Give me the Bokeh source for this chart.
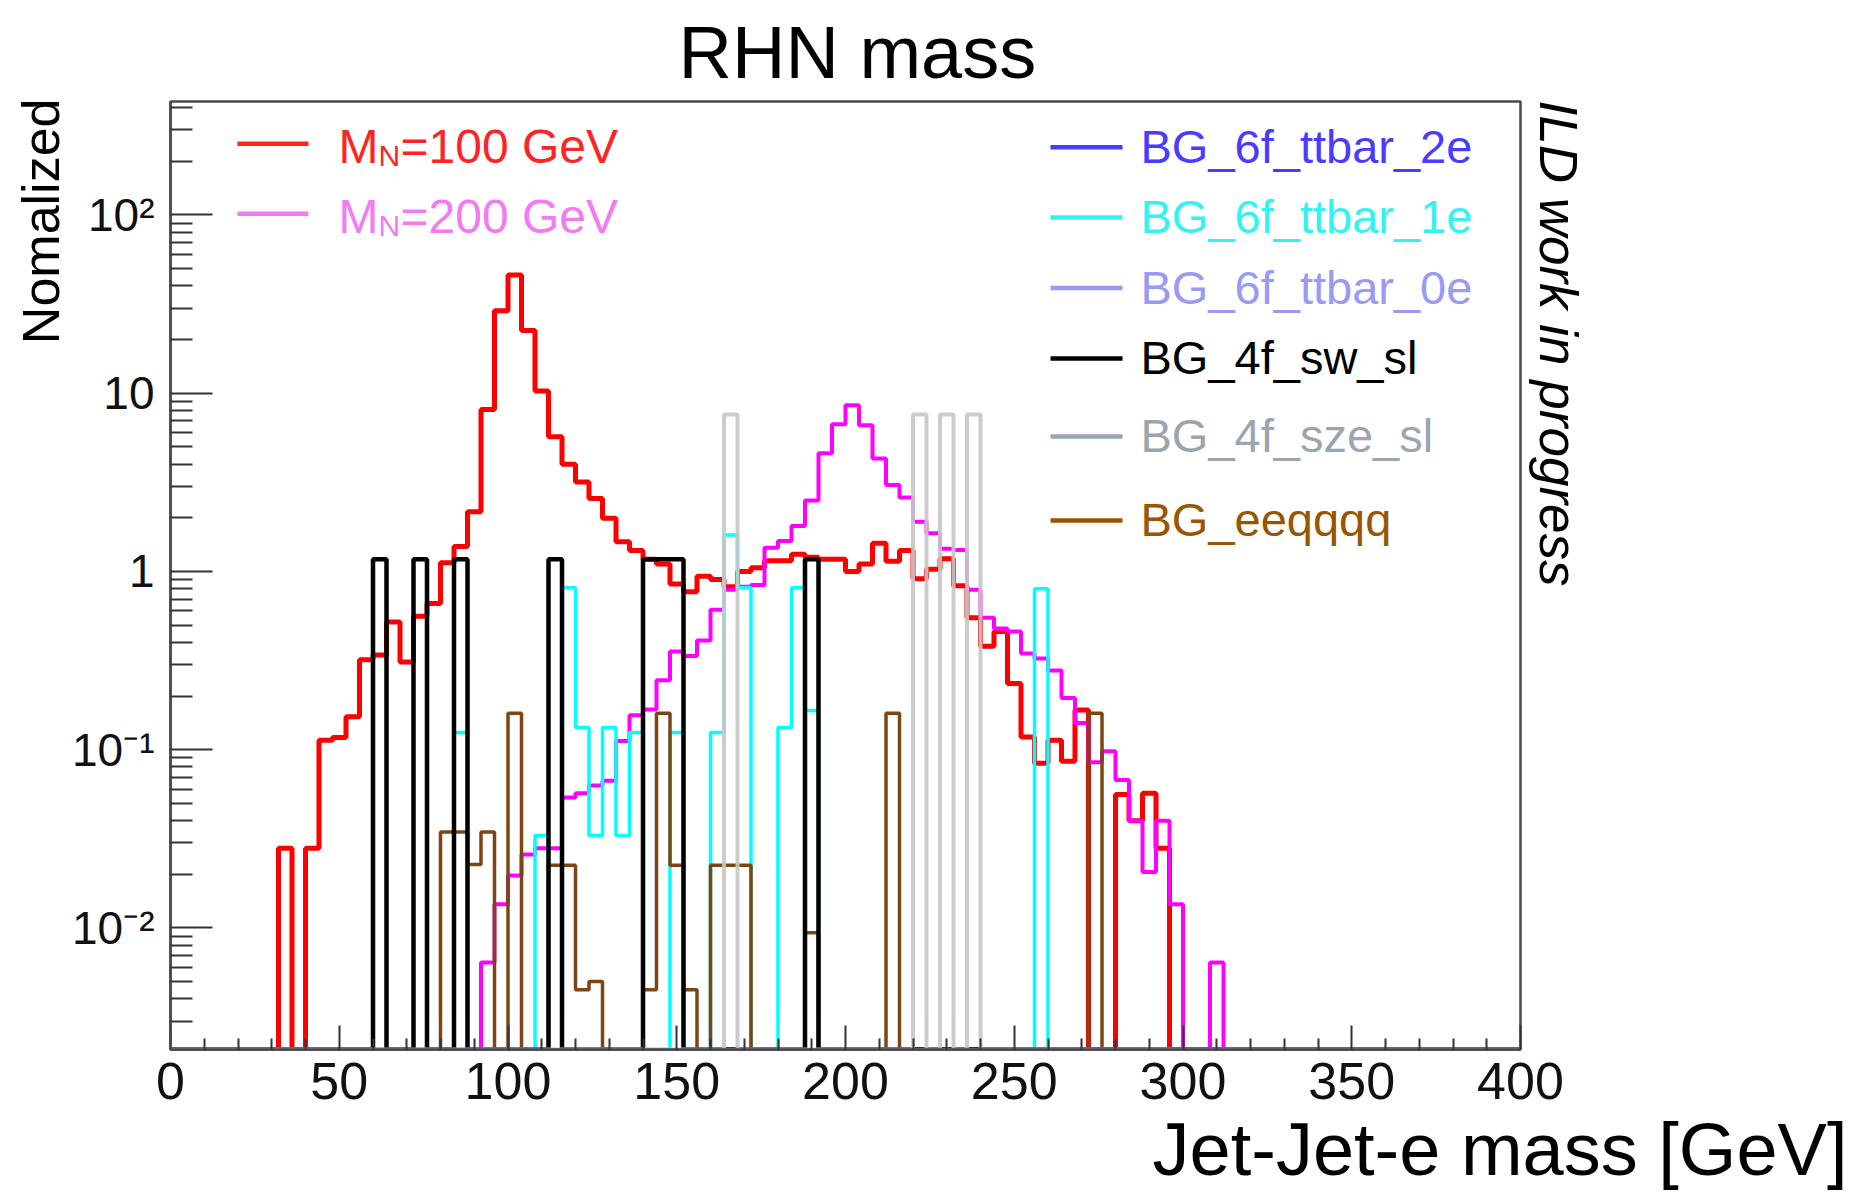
import math
import numpy as np
from bokeh.plotting import figure
from bokeh.models import Range1d, FixedTicker, Label, Title
from bokeh.embed import file_html
from bokeh.resources import INLINE

# ---- binning: 100 bins of 4 GeV between 0 and 400 GeV ----
X_MIN, X_MAX, BIN_W = 0.0, 400.0, 4.0
Y_MIN, Y_MAX = 2.08e-3, 433.0

# ---- signal M_N = 100 GeV: consecutive bins from 32 GeV ----
mn100_first_edge = 32
mn100_counts = [0.028, 0, 0.028, 0.113, 0.117, 0.153, 0.32, 0.34, 0.52, 0.31,
                0.56, 0.66, 1.12, 1.38, 2.16, 8.1, 29.0, 46.0, 22.5, 10.3,
                5.7, 4.0, 3.18, 2.57, 1.99, 1.47, 1.31, 1.17, 1.1, 0.85,
                0.77, 0.94, 0.90, 0.82, 1.0, 1.05, 1.15, 1.15, 1.25, 1.2,
                1.17, 1.17, 1.0, 1.1, 1.44, 1.14, 1.31, 0.91, 1.03, 1.18,
                0.83, 0.55, 0.38, 0.46, 0.235, 0.118, 0.084, 0.113, 0.086, 0.167,
                0, 0, 0.056, 0.040, 0.057, 0.028]

# ---- signal M_N = 200 GeV: consecutive bins from 92 GeV ----
mn200_first_edge = 92
mn200_counts = [0.0064, 0.0136, 0.0197, 0.0258, 0.028, 0.028, 0.054, 0.057, 0.063, 0.067,
                0.112, 0.156, 0.168, 0.245, 0.356, 0.336, 0.41, 0.61, 0.79, 0.82,
                0.84, 1.36, 1.48, 1.8, 2.5, 4.6, 6.7, 8.55, 6.6, 4.3,
                3.05, 2.6, 1.9, 1.64, 1.34, 1.32, 0.79, 0.55, 0.478, 0.46,
                0.347, 0.325, 0.278, 0.195, 0.141, 0.085, 0.098, 0.0675, 0.040, 0.0206,
                0.040, 0.0136, 0, 0, 0.0064]

# ---- backgrounds: low edge of each filled bin and its content ----
ttbar2e_edges, ttbar2e_counts = [], []
ttbar1e_edges = [84, 108, 116, 120, 124, 128, 132, 136, 148, 160, 164, 168, 180, 184, 188, 256]
ttbar1e_counts = [0.125, 0.033, 0.81, 0.133, 0.033, 0.133, 0.033, 0.125, 0.125, 0.125,
                  1.6, 0.81, 0.133, 0.81, 0.166, 0.8]
ttbar0e_edges, ttbar0e_counts = [], []
swsl_edges = [60, 72, 84, 112, 140, 144, 148, 188]
swsl_counts = [1.17, 1.17, 1.17, 1.17, 1.17, 1.17, 1.17, 1.17]
szesl_edges = [164, 220, 228, 236]
szesl_counts = [7.6, 7.6, 7.6, 7.6]
eeqqqq_edges = [80, 84, 88, 92, 100, 112, 116, 120, 124, 140, 144, 148, 152,
                160, 164, 168, 188, 212, 272]
eeqqqq_counts = [0.0345, 0.0345, 0.0227, 0.0345, 0.16, 0.0225, 0.0225, 0.0045, 0.005,
                 0.0045, 0.16, 0.0225, 0.0045, 0.0225, 0.0225, 0.0225, 0.0094, 0.16, 0.16]

# ---- axis ticks ----
x_tick_values = [0, 50, 100, 150, 200, 250, 300, 350, 400]
y_tick_values = [0.01, 0.1, 1, 10, 100]
y_tick_labels = ["10\u207b\u00b2", "10\u207b\u00b9", "1", "10", "10\u00b2"]

# ---- legend entries ----
signal_names = ["=100 GeV", "=200 GeV"]
signal_text_colors = ["#ff2424", "#f47af4"]
bg_names = ["BG_6f_ttbar_2e", "BG_6f_ttbar_1e", "BG_6f_ttbar_0e",
            "BG_4f_sw_sl", "BG_4f_sze_sl", "BG_eeqqqq"]
bg_text_colors = ["#4a3cff", "#33f2f2", "#9a9af5", "#000000", "#9aa5b0", "#9a5500"]

# ---- canvas geometry ----
W, H = 1856, 1197
F_LEFT, F_RIGHT, F_TOP, F_BOTTOM = 170, 1520, 101, 1049
LOG_LO, LOG_HI = math.log10(Y_MIN), math.log10(Y_MAX)
FONT = "Liberation Sans"
CAP_MID = 0.36  # distance from baseline to mid-cap height, in em


def data_x(px):
    return X_MIN + (px - F_LEFT) / (F_RIGHT - F_LEFT) * (X_MAX - X_MIN)


def data_y(py):
    return 10 ** (LOG_HI - (py - F_TOP) / (F_BOTTOM - F_TOP) * (LOG_HI - LOG_LO))


edges = np.arange(X_MIN, X_MAX + BIN_W, BIN_W)
n_bins = len(edges) - 1


def from_sparse(bin_edges, counts):
    h = np.zeros(n_bins)
    for e, c in zip(bin_edges, counts):
        h[int(round((e - X_MIN) / BIN_W))] = c
    return h


def from_run(first_edge, counts):
    return from_sparse([first_edge + i * BIN_W for i in range(len(counts))], counts)


def outline(h):
    # empty bins sit on the bottom of the log frame
    y = np.where(h > 0, h, Y_MIN)
    return edges, np.append(y, y[-1])


p = figure(width=W, height=H, x_range=Range1d(X_MIN, X_MAX),
           y_range=Range1d(Y_MIN, Y_MAX), y_axis_type="log",
           output_backend="svg", toolbar_location=None,
           min_border_left=F_LEFT, min_border_right=W - F_RIGHT,
           min_border_top=F_TOP, min_border_bottom=H - F_BOTTOM)
p.grid.visible = False
p.background_fill_color = "white"
p.border_fill_color = "white"
p.outline_line_color = "#4a4a4a"
p.outline_line_width = 2.5

# ---- title above the frame ----
p.title.text = "RHN mass"
p.title.text_font = FONT
p.title.text_font_size = "74px"
p.title.text_font_style = "normal"
p.title.text_color = "black"
p.title.align = "left"
p.title.offset = 508
p.title.vertical_align = "bottom"
p.title.standoff = 16

xa = p.xaxis[0]
xa.ticker = FixedTicker(ticks=x_tick_values,
                        minor_ticks=[v for v in range(0, 401, 10) if v % 50])
xa.axis_line_color = "#4a4a4a"
xa.axis_line_width = 2.5
xa.major_tick_in, xa.major_tick_out = 24, 0
xa.minor_tick_in, xa.minor_tick_out = 11, 0
xa.major_tick_line_color = "#333333"
xa.minor_tick_line_color = "#333333"
xa.major_tick_line_width = 2
xa.minor_tick_line_width = 2
xa.major_label_text_font = FONT
xa.major_label_text_font_size = "52px"
xa.major_label_text_color = "#111111"
xa.major_label_standoff = 13

ya = p.yaxis[0]
ya.ticker = FixedTicker(ticks=y_tick_values,
                        minor_ticks=[m * 10.0 ** e for e in range(-3, 3) for m in range(2, 10)
                                     if Y_MIN < m * 10.0 ** e < Y_MAX])
ya.major_label_overrides = dict(zip(y_tick_values, y_tick_labels))
ya.axis_line_color = "#4a4a4a"
ya.axis_line_width = 2.5
ya.major_tick_in, ya.major_tick_out = 42, 0
ya.minor_tick_in, ya.minor_tick_out = 22, 0
ya.major_tick_line_color = "#333333"
ya.minor_tick_line_color = "#333333"
ya.major_tick_line_width = 2
ya.minor_tick_line_width = 2
ya.major_label_text_font = FONT
ya.major_label_text_font_size = "46px"
ya.major_label_text_color = "#111111"
ya.major_label_standoff = 16

# ---- axis titles and the status note, set in the side panels ----
# x title: right end well past the frame, under the tick labels
p.add_layout(Title(text="Jet-Jet-e mass [GeV]", text_font=FONT, text_font_size="74px",
                   text_font_style="normal", text_color="black", align="right",
                   offset=-(W - 9 - F_RIGHT), vertical_align="bottom", standoff=8),
             "below")
p.add_layout(Title(text="Nomalized", text_font=FONT, text_font_size="52px",
                   text_font_style="normal", text_color="black", align="right",
                   offset=-3, vertical_align="bottom", standoff=0), "left")
p.add_layout(Title(text="ILD work in progress", text_font=FONT, text_font_size="53px",
                   text_font_style="italic", text_color="black", align="left",
                   offset=-1, vertical_align="bottom", standoff=17), "right")

# ---- histograms ----
series = [
    (from_run(mn100_first_edge, mn100_counts), "#ff0000", 5.0, 1.0),
    (from_run(mn200_first_edge, mn200_counts), "#ff00ff", 4.0, 1.0),
    (from_sparse(ttbar1e_edges, ttbar1e_counts), "#00ffff", 3.5, 1.0),
    (from_sparse(eeqqqq_edges, eeqqqq_counts), "#7d4513", 3.5, 1.0),
    (from_sparse(swsl_edges, swsl_counts), "#000000", 4.5, 1.0),
    (from_sparse(szesl_edges, szesl_counts), "#c6c6c6", 4.0, 0.9),
    (from_sparse(ttbar2e_edges, ttbar2e_counts), "#4433ff", 2.5, 1.0),
    (from_sparse(ttbar0e_edges, ttbar0e_counts), "#a3a0e8", 2.5, 1.0),
]
for h, color, lw, alpha in series:
    xs, ys = outline(h)
    p.step(xs, ys, mode="after", line_color=color, line_width=lw, line_alpha=alpha)


def put_text(px, py_base, text, size, color="black"):
    """Legend text placed by its baseline in page pixels (anchored at mid-cap height)."""
    p.add_layout(Label(x=px - F_LEFT, y=F_BOTTOM - (py_base - CAP_MID * size),
                       x_units="screen", y_units="screen",
                       text=text, text_font=FONT, text_font_size=f"{size}px",
                       text_color=color, text_align="left", text_baseline="middle"))


# ---- signal legend ----
for i, (name, tc) in enumerate(zip(signal_names, signal_text_colors)):
    row = 143.3 + 70 * i
    p.segment(x0=[data_x(237)], y0=[data_y(row)], x1=[data_x(308)], y1=[data_y(row)],
              line_color=tc, line_width=4.5)
    put_text(338, row + 20, "M", 48, color=tc)
    put_text(378, row + 22, "N", 30, color=tc)
    put_text(400, row + 20, name, 48, color=tc)

# ---- background legend ----
bg_rows = [146.7, 217.0, 287.5, 358.0, 436.0, 520.0]
for name, tc, row in zip(bg_names, bg_text_colors, bg_rows):
    p.segment(x0=[data_x(1050)], y0=[data_y(row)], x1=[data_x(1122)], y1=[data_y(row)],
              line_color=tc, line_width=4.5)
    put_text(1140, row + 16, name, 47, color=tc)

open("out.html", "w").write(file_html(p, INLINE))
